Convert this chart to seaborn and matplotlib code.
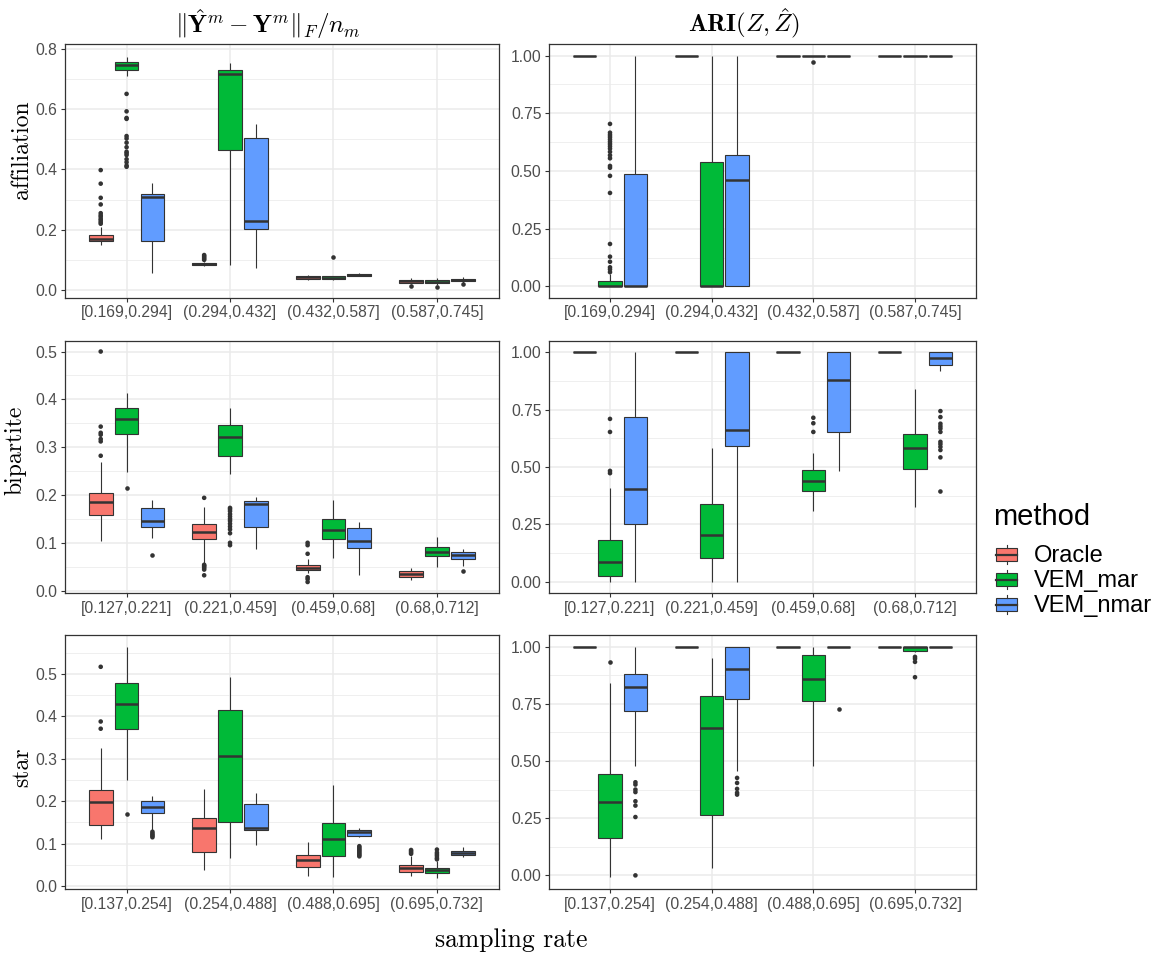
import numpy as np
import pandas as pd
import matplotlib
matplotlib.use("Agg")
import matplotlib.pyplot as plt
from matplotlib.patches import Rectangle
from matplotlib.lines import Line2D
from matplotlib.ticker import FixedLocator, FormatStrFormatter
import seaborn as sns

plt.rcParams["mathtext.fontset"] = "cm"
plt.rcParams["font.family"] = ["Liberation Sans", "DejaVu Sans"]

# ---------------------------------------------------------------- data
methods = ["Oracle", "VEM_mar", "VEM_nmar"]
colors = ["#F8766D", "#00BA38", "#619CFF"]

aff_bins = ["[0.169,0.294]", "(0.294,0.432]", "(0.432,0.587]", "(0.587,0.745]"]
bip_bins = ["[0.127,0.221]", "(0.221,0.459]", "(0.459,0.68]", "(0.68,0.712]"]
star_bins = ["[0.137,0.254]", "(0.254,0.488]", "(0.488,0.695]", "(0.695,0.732]"]

# box summaries per bin: (lower whisker, Q1, median, Q3, upper whisker)
aff_err = {
    "Oracle": [(0.148, 0.162, 0.170, 0.181, 0.210), (0.080, 0.082, 0.086, 0.090, 0.093),
               (0.033, 0.038, 0.042, 0.046, 0.049), (0.020, 0.024, 0.029, 0.033, 0.040)],
    "VEM_mar": [(0.710, 0.729, 0.748, 0.757, 0.775), (0.083, 0.465, 0.717, 0.731, 0.755),
                (0.033, 0.037, 0.041, 0.045, 0.048), (0.018, 0.023, 0.028, 0.032, 0.040)],
    "VEM_nmar": [(0.058, 0.163, 0.308, 0.318, 0.356), (0.074, 0.204, 0.230, 0.503, 0.552),
                 (0.045, 0.048, 0.051, 0.053, 0.055), (0.024, 0.029, 0.033, 0.037, 0.043)],
}
aff_err_out = {
    "Oracle": [[0.398, 0.353, 0.306, 0.284, 0.255, 0.248, 0.243, 0.236, 0.231, 0.225, 0.220],
               [0.116, 0.112, 0.108, 0.104, 0.100], [], [0.013]],
    "VEM_mar": [[0.651, 0.593, 0.571, 0.568, 0.511, 0.503, 0.489, 0.474, 0.459, 0.454, 0.448,
                 0.434, 0.424, 0.413, 0.409], [], [0.111], [0.011]],
    "VEM_nmar": [[], [], [], [0.020]],
}

aff_ari = {
    "Oracle": [(1, 1, 1, 1, 1), (1, 1, 1, 1, 1), (1, 1, 1, 1, 1), (1, 1, 1, 1, 1)],
    "VEM_mar": [(0.0, 0.0, 0.0, 0.023, 0.055), (0.0, 0.0, 0.0, 0.540, 1.0),
                (1, 1, 1, 1, 1), (1, 1, 1, 1, 1)],
    "VEM_nmar": [(0.0, 0.0, 0.0, 0.485, 1.0), (0.0, 0.0, 0.463, 0.570, 1.0),
                 (1, 1, 1, 1, 1), (1, 1, 1, 1, 1)],
}
aff_ari_out = {
    "Oracle": [[], [], [], []],
    "VEM_mar": [[0.704, 0.666, 0.656, 0.647, 0.637, 0.627, 0.617, 0.607, 0.597, 0.583, 0.568,
                 0.555, 0.522, 0.514, 0.479, 0.405, 0.184, 0.129, 0.107, 0.083, 0.074, 0.062],
                [], [0.974], []],
    "VEM_nmar": [[], [], [], []],
}

bip_err = {
    "Oracle": [(0.104, 0.159, 0.186, 0.205, 0.268), (0.058, 0.107, 0.123, 0.139, 0.175),
               (0.037, 0.043, 0.048, 0.053, 0.066), (0.023, 0.029, 0.034, 0.040, 0.047)],
    "VEM_mar": [(0.249, 0.327, 0.358, 0.382, 0.414), (0.244, 0.281, 0.322, 0.347, 0.382),
                (0.068, 0.107, 0.127, 0.150, 0.190), (0.049, 0.073, 0.080, 0.091, 0.112)],
    "VEM_nmar": [(0.111, 0.134, 0.146, 0.172, 0.190), (0.086, 0.134, 0.181, 0.187, 0.195),
                 (0.033, 0.089, 0.103, 0.130, 0.144), (0.051, 0.067, 0.075, 0.080, 0.088)],
}
bip_err_out = {
    "Oracle": [[0.500, 0.343, 0.330, 0.326, 0.317, 0.312, 0.282],
               [0.194, 0.054, 0.052, 0.050, 0.047, 0.044, 0.032],
               [0.100, 0.095, 0.077, 0.028, 0.024, 0.018], []],
    "VEM_mar": [[0.215], [0.173, 0.170, 0.166, 0.160, 0.155, 0.150, 0.146, 0.140, 0.134,
                          0.128, 0.120, 0.100, 0.095], [], []],
    "VEM_nmar": [[0.074], [], [], [0.040]],
}

bip_ari = {
    "Oracle": [(1, 1, 1, 1, 1), (1, 1, 1, 1, 1), (1, 1, 1, 1, 1), (1, 1, 1, 1, 1)],
    "VEM_mar": [(0.0, 0.025, 0.084, 0.181, 0.408), (0.0, 0.103, 0.205, 0.340, 0.581),
                (0.308, 0.395, 0.441, 0.486, 0.559), (0.325, 0.491, 0.584, 0.643, 0.841)],
    "VEM_nmar": [(0.0, 0.250, 0.405, 0.718, 1.0), (0.0, 0.592, 0.660, 1.0, 1.0),
                 (0.484, 0.653, 0.879, 1.0, 1.0), (0.920, 0.947, 0.977, 1.0, 1.0)],
}
bip_ari_out = {
    "Oracle": [[], [], [], []],
    "VEM_mar": [[0.710, 0.653, 0.483, 0.473], [], [0.715, 0.691, 0.653], []],
    "VEM_nmar": [[], [], [], [0.744, 0.718, 0.689, 0.678, 0.668, 0.653, 0.610, 0.600,
                              0.588, 0.574, 0.542, 0.393]],
}

star_err = {
    "Oracle": [(0.112, 0.145, 0.197, 0.226, 0.325), (0.038, 0.081, 0.136, 0.161, 0.230),
               (0.024, 0.046, 0.061, 0.073, 0.103), (0.024, 0.034, 0.042, 0.050, 0.071)],
    "VEM_mar": [(0.250, 0.370, 0.430, 0.478, 0.563), (0.066, 0.150, 0.307, 0.414, 0.492),
                (0.022, 0.072, 0.112, 0.148, 0.239), (0.020, 0.030, 0.037, 0.043, 0.060)],
    "VEM_nmar": [(0.132, 0.173, 0.186, 0.201, 0.212), (0.096, 0.131, 0.138, 0.193, 0.219),
                 (0.115, 0.119, 0.127, 0.131, 0.138), (0.068, 0.073, 0.078, 0.083, 0.093)],
}
star_err_out = {
    "Oracle": [[0.517, 0.388, 0.371], [], [], [0.085, 0.082, 0.079, 0.076]],
    "VEM_mar": [[0.171], [], [], [0.086, 0.079, 0.075, 0.071, 0.066, 0.063]],
    "VEM_nmar": [[0.128, 0.124, 0.121, 0.118, 0.115], [],
                 [0.094, 0.091, 0.088, 0.085, 0.082, 0.079, 0.076, 0.073, 0.070], []],
}

star_ari = {
    "Oracle": [(1, 1, 1, 1, 1), (1, 1, 1, 1, 1), (1, 1, 1, 1, 1), (1, 1, 1, 1, 1)],
    "VEM_mar": [(-0.009, 0.162, 0.321, 0.441, 0.839), (0.032, 0.263, 0.644, 0.784, 0.949),
                (0.477, 0.764, 0.858, 0.965, 1.0), (0.975, 0.981, 1.0, 1.0, 1.0)],
    "VEM_nmar": [(0.477, 0.718, 0.823, 0.882, 1.0), (0.455, 0.772, 0.901, 1.0, 1.0),
                 (1, 1, 1, 1, 1), (1, 1, 1, 1, 1)],
}
star_ari_out = {
    "Oracle": [[], [], [], []],
    "VEM_mar": [[0.934], [], [], [0.955, 0.947, 0.933, 0.866]],
    "VEM_nmar": [[0.407, 0.397, 0.375, 0.364, 0.324, 0.305, 0.255, 0.0],
                 [0.426, 0.404, 0.378, 0.361, 0.353], [0.727], []],
}

row_names = ["affiliation", "bipartite", "star"]
col_titles = [r"$\|\hat{\mathbf{Y}}^m-\mathbf{Y}^m\|_F/n_m$", r"$\mathbf{ARI}(Z,\hat{Z})$"]

# ---------------------------------------------------------------- styling
W, H = 1162, 956
EDGE = "#333333"
GRID = "#EBEBEB"
TICKC = "#4D4D4D"
DODGE_W = 0.75

fig = plt.figure(figsize=(W / 100, H / 100), dpi=100)
fig.patch.set_facecolor("white")


def px_axes(x0, y0, x1, y1):
    return fig.add_axes([x0 / W, 1 - y1 / H, (x1 - x0) / W, (y1 - y0) / H])


def draw_panel(ax, bins, summary, outliers, ylim, major, minor, fmt):
    rows = [(b, m, v) for m in methods for b, st in zip(bins, summary[m]) for v in st]
    box_df = pd.DataFrame(rows, columns=["bin", "method", "value"])
    pts = [(b, m, v) for m in methods for b, vals in zip(bins, outliers[m]) for v in vals]
    pt_df = pd.DataFrame(pts, columns=["bin", "method", "value"])

    sns.boxplot(data=box_df, x="bin", y="value", hue="method", order=bins,
                hue_order=methods, palette=colors, saturation=1, whis=(0, 100),
                width=DODGE_W, gap=0.08, linecolor=EDGE, linewidth=0.8, fliersize=0,
                medianprops=dict(linewidth=1.8), capprops=dict(linewidth=0),
                legend=False, ax=ax)
    n0 = len(ax.collections)
    sns.stripplot(data=pt_df, x="bin", y="value", hue="method", order=bins,
                  hue_order=methods, palette={m: EDGE for m in methods},
                  dodge=True, jitter=False, size=3.3, linewidth=0,
                  legend=False, ax=ax)
    # align the outlier dodge with the box dodge width
    for coll in ax.collections[n0:]:
        off = np.asarray(coll.get_offsets(), dtype=float)
        if off.size == 0:
            continue
        base = np.round(off[:, 0])
        off[:, 0] = base + (off[:, 0] - base) * DODGE_W / 0.8
        coll.set_offsets(off)

    ax.set_xlim(-0.6, 3.6)
    ax.set_ylim(*ylim)
    ax.yaxis.set_major_locator(FixedLocator(major))
    ax.yaxis.set_minor_locator(FixedLocator(minor))
    ax.yaxis.set_major_formatter(FormatStrFormatter(fmt))
    ax.set_axisbelow(True)
    ax.grid(which="major", color=GRID, linewidth=1.1)
    ax.grid(which="minor", axis="y", color=GRID, linewidth=0.55)
    ax.xaxis.grid(True, which="major", color=GRID, linewidth=1.1)
    ax.tick_params(which="minor", length=0)
    ax.tick_params(which="major", length=3.2, width=0.8, color=EDGE,
                   labelcolor=TICKC, labelsize=11.3, pad=2.2)
    for s in ax.spines.values():
        s.set_color(EDGE)
        s.set_linewidth(0.9)
    ax.set_xlabel("")
    ax.set_ylabel("")
    ax.set_facecolor("white")


left_x = (64.5, 499)
right_x = (549, 976)
rows_y = [(44, 298), (341, 593), (635, 889)]

err_major = [
    [0.0, 0.2, 0.4, 0.6, 0.8],
    [0.0, 0.1, 0.2, 0.3, 0.4, 0.5],
    [0.0, 0.1, 0.2, 0.3, 0.4, 0.5],
]
err_minor = [
    [0.1, 0.3, 0.5, 0.7],
    [0.05, 0.15, 0.25, 0.35, 0.45],
    [0.05, 0.15, 0.25, 0.35, 0.45, 0.55],
]
err_ylim = [(-0.0266, 0.8166), (-0.005, 0.522), (-0.007, 0.592)]
ari_ylim = [(-0.05, 1.05), (-0.05, 1.05), (-0.0595, 1.0505)]
ari_major = [0.0, 0.25, 0.5, 0.75, 1.0]
ari_minor = [0.125, 0.375, 0.625, 0.875]

panels = [
    (aff_bins, aff_err, aff_err_out, aff_ari, aff_ari_out),
    (bip_bins, bip_err, bip_err_out, bip_ari, bip_ari_out),
    (star_bins, star_err, star_err_out, star_ari, star_ari_out),
]

for i, (bins, err, err_out, ari, ari_out) in enumerate(panels):
    y0, y1 = rows_y[i]
    axl = px_axes(left_x[0], y0, left_x[1], y1)
    draw_panel(axl, bins, err, err_out, err_ylim[i], err_major[i], err_minor[i], "%.1f")
    axr = px_axes(right_x[0], y0, right_x[1], y1)
    draw_panel(axr, bins, ari, ari_out, ari_ylim[i], ari_major, ari_minor, "%.2f")

# column titles
fig.text(268 / W, 1 - 24 / H, col_titles[0], ha="center", va="center", fontsize=18)
fig.text(744 / W, 1 - 24 / H, col_titles[1], ha="center", va="center", fontsize=18)

# row labels (baseline x, vertical centre)
row_pos = [(28.3, 150), (21.7, 450), (28.3, 767.5)]
for name, (bx, cy) in zip(row_names, row_pos):
    fig.text(bx / W, 1 - cy / H, name, rotation=90, rotation_mode="anchor",
             ha="center", va="baseline", family="cmr10", fontsize=17)

# shared x label
fig.text(511 / W, 1 - 940 / H, "sampling rate", ha="center", va="center",
         family="cmr10", fontsize=18.5)

# legend
fig.text(993 / W, 1 - 525 / H, "method", ha="left", va="baseline", fontsize=21)
for i, (m, c) in enumerate(zip(methods, colors)):
    base = 562 + 25 * i
    yc = base - 7.5
    kx0, kx1 = 996, 1017
    kxc = (kx0 + kx1) / 2
    fig.patches.append(Rectangle((kx0 / W, 1 - (yc + 6.5) / H), (kx1 - kx0) / W, 13 / H,
                                 transform=fig.transFigure, facecolor=c,
                                 edgecolor=EDGE, linewidth=0.8))
    fig.lines.append(Line2D([kx0 / W, kx1 / W], [1 - yc / H, 1 - yc / H],
                            transform=fig.transFigure, color=EDGE, linewidth=1.6))
    fig.lines.append(Line2D([kxc / W, kxc / W], [1 - (yc - 6.5) / H, 1 - (yc - 9.5) / H],
                            transform=fig.transFigure, color=EDGE, linewidth=0.8))
    fig.lines.append(Line2D([kxc / W, kxc / W], [1 - (yc + 6.5) / H, 1 - (yc + 9.5) / H],
                            transform=fig.transFigure, color=EDGE, linewidth=0.8))
    fig.text(1034 / W, 1 - base / H, m, ha="left", va="baseline", fontsize=17)

fig.savefig("out.png", dpi=100)
